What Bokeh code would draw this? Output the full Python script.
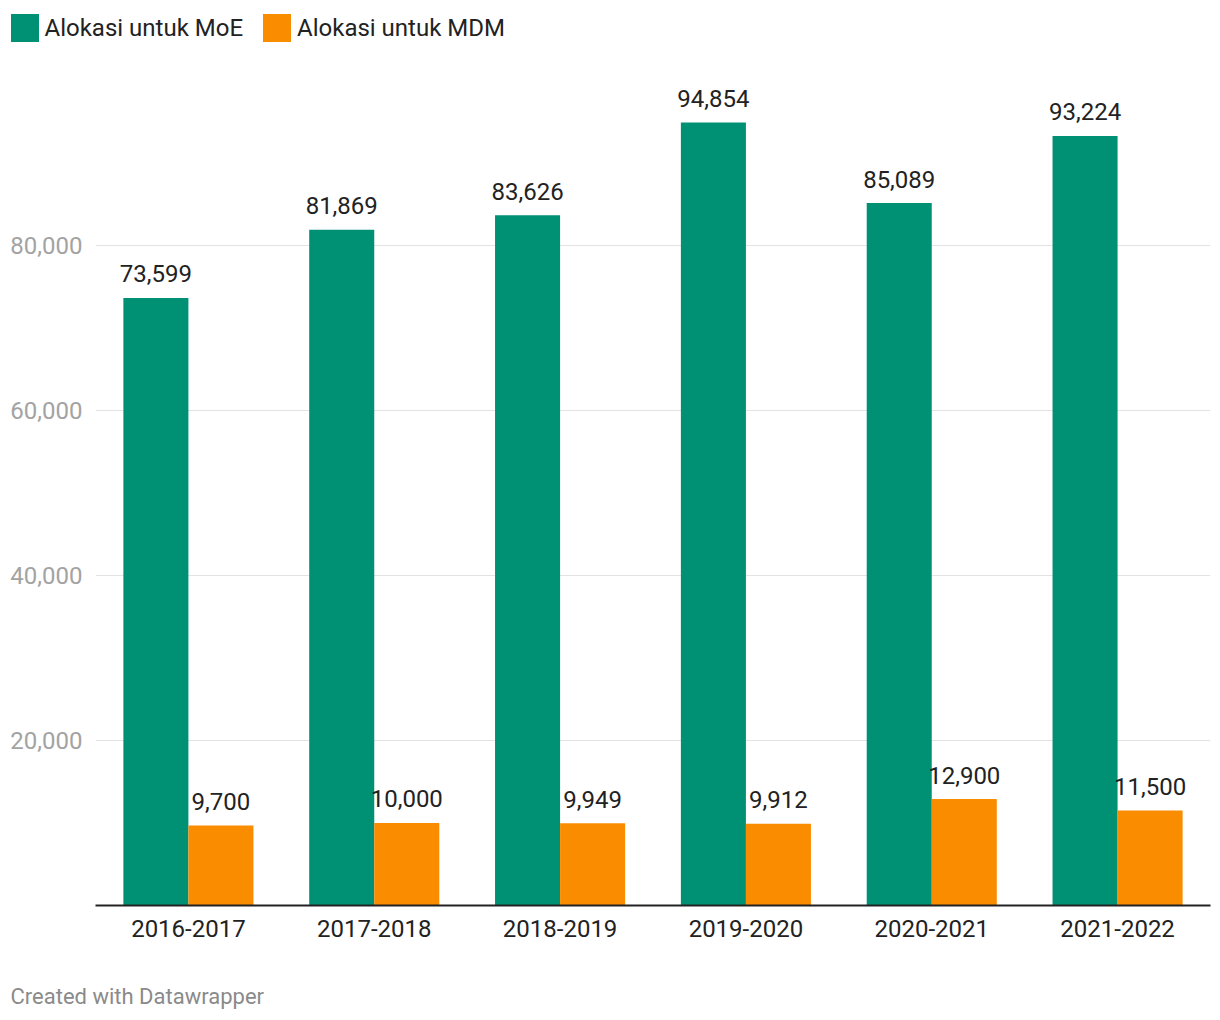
from bokeh.plotting import figure
from bokeh.layouts import column
from bokeh.models import (ColumnDataSource, FactorRange, Range1d, FixedTicker, Legend,
                          LegendItem, Label, NumeralTickFormatter)
from bokeh.transform import dodge
from bokeh.core.properties import value
from bokeh.embed import file_html
from bokeh.resources import INLINE

years = ["2016-2017", "2017-2018", "2018-2019", "2019-2020", "2020-2021", "2021-2022"]
moe = [73599, 81869, 83626, 94854, 85089, 93224]
mdm = [9700, 10000, 9949, 9912, 12900, 11500]
series_names = ["Alokasi untuk MoE", "Alokasi untuk MDM"]
y_ticks = [20000, 40000, 60000, 80000]

GREEN = "#009175"
ORANGE = "#fa8c00"
FONT = "Roboto"
FS = "24px"

src = ColumnDataSource(dict(
    year=years, moe=moe, mdm=mdm,
    moe_lbl=[f"{v:,}" for v in moe],
    mdm_lbl=[f"{v:,}" for v in mdm],
))


def bare(fig):
    fig.outline_line_color = None
    fig.xgrid.grid_line_color = None
    fig.ygrid.grid_line_color = None
    fig.frame_align = False
    return fig


# ---- legend strip: same series kept out of view, only its legend shows ----
lf = bare(figure(width=1212, height=60, output_backend="svg", toolbar_location=None,
                 x_range=FactorRange(factors=years), y_range=Range1d(1e6, 2e6),
                 x_axis_location=None, y_axis_location=None,
                 min_border_left=0, min_border_right=0, min_border_top=0, min_border_bottom=0))
k1 = lf.vbar(x="year", top="moe", width=0.35, source=src, fill_color=GREEN, line_color=None)
k2 = lf.vbar(x="year", top="mdm", width=0.35, source=src, fill_color=ORANGE, line_color=None)
legend = Legend(items=[LegendItem(label=series_names[0], renderers=[k1]),
                       LegendItem(label=series_names[1], renderers=[k2])],
                location=(6.5, 15), orientation="horizontal",
                glyph_width=35, glyph_height=35, label_standoff=3, spacing=16,
                padding=0, margin=0, border_line_color=None, background_fill_alpha=0,
                label_text_font=FONT, label_text_font_size=FS, label_text_color="#222222")
lf.add_layout(legend)

# ---- main chart ----
p = figure(x_range=FactorRange(factors=years, range_padding=0),
           y_range=Range1d(0, 102362),
           width=1212, height=900, output_backend="svg", toolbar_location=None,
           min_border_left=95, min_border_right=2, min_border_top=0, min_border_bottom=55)
p.frame_align = False

p.vbar(x=dodge("year", -0.175, range=p.x_range), top="moe", width=0.35,
       source=src, fill_color=GREEN, line_color=None)
p.vbar(x=dodge("year", 0.175, range=p.x_range), top="mdm", width=0.35,
       source=src, fill_color=ORANGE, line_color=None)

for col, off in (("moe", -0.175), ("mdm", 0.175)):
    p.text(x=dodge("year", off, range=p.x_range), y=col, text=col + "_lbl", source=src,
           text_align="center", text_baseline="alphabetic", y_offset=-24,
           text_font=value(FONT), text_font_size=FS, text_color="#222222")

p.outline_line_color = None
p.background_fill_color = "white"
p.xgrid.grid_line_color = None
p.ygrid.grid_line_color = "#e3e3e3"
p.ygrid.grid_line_width = 1

xa = p.xaxis[0]
xa.axis_line_color = "#222222"
xa.axis_line_width = 2
xa.major_tick_line_color = None
xa.minor_tick_line_color = None
xa.major_label_text_font = FONT
xa.major_label_text_font_size = FS
xa.major_label_text_color = "#222222"
xa.major_label_standoff = 8

ya = p.yaxis[0]
ya.ticker = FixedTicker(ticks=y_ticks)
ya.formatter = NumeralTickFormatter(format="0,0")
ya.axis_line_color = None
ya.major_tick_line_color = None
ya.minor_tick_line_color = None
ya.major_label_text_font = FONT
ya.major_label_text_font_size = FS
ya.major_label_text_color = "#a3a3a3"
ya.major_label_standoff = 7

# ---- footer strip ----
ff = bare(figure(width=1212, height=52, output_backend="svg", toolbar_location=None,
                 x_range=Range1d(0, 1), y_range=Range1d(0, 1),
                 x_axis_location=None, y_axis_location=None,
                 min_border_left=0, min_border_right=0, min_border_top=0, min_border_bottom=0))
ff.add_layout(Label(x=10, y=16, x_units="screen", y_units="screen",
                    text="Created with Datawrapper", text_font=FONT, text_font_size="22px",
                    text_color="#8a8a8a", text_baseline="alphabetic"))

layout = column(lf, p, ff, spacing=0)
open("out.html", "w").write(file_html(layout, INLINE))
